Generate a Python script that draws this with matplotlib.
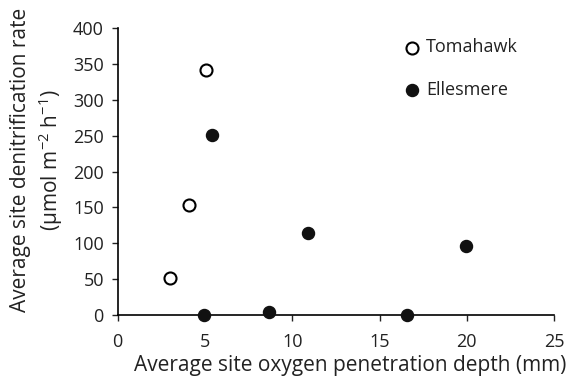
import matplotlib
matplotlib.use("Agg")
import matplotlib.pyplot as plt

# Средние по сайтам: глубина проникновения O2 (мм) и скорость денитрификации
tomahawk_depth = [3.0, 4.07, 5.04]
tomahawk_rate = [52, 153, 342]
ellesmere_depth = [4.96, 5.4, 8.67, 10.9, 16.59, 19.95]
ellesmere_rate = [0, 251, 4, 114, 0, 97]

x_ticks = [0, 5, 10, 15, 20, 25]
y_ticks = [0, 50, 100, 150, 200, 250, 300, 350, 400]

plt.rcParams["font.family"] = ["Open Sans", "DejaVu Sans"]
plt.rcParams["mathtext.default"] = "regular"

fig = plt.figure(figsize=(5.66, 3.83), dpi=100)
ax = fig.add_axes([0.208, 0.177, 0.771, 0.750])

ax.scatter(tomahawk_depth, tomahawk_rate, s=75, facecolors="white",
           edgecolors="black", linewidths=1.5, label="Tomahawk", zorder=3,
           clip_on=False)
ax.scatter(ellesmere_depth, ellesmere_rate, s=75, color="#111111",
           label="Ellesmere", zorder=3, clip_on=False)

ax.set_xlim(0, 25)
ax.set_ylim(0, 400)
ax.set_xticks(x_ticks)
ax.set_yticks(y_ticks)
ax.tick_params(labelsize=13, direction="out", length=4, width=1,
               colors="#222222", labelcolor="#222222")
ax.tick_params(axis="x", pad=8.5)
ax.tick_params(axis="y", pad=6)
for side in ["top", "right"]:
    ax.spines[side].set_visible(False)
for side in ["left", "bottom"]:
    ax.spines[side].set_linewidth(1.2)

ax.set_xlabel("Average site oxygen penetration depth (mm)", fontsize=15,
              labelpad=3.5, x=0.532, color="#222222")
ax.set_ylabel("Average site denitrification rate\n(µmol m$^{-2}$ h$^{-1}$)",
              fontsize=15, labelpad=6, y=0.54, color="#222222",
              linespacing=1.25)

leg = ax.legend(loc="upper right", bbox_to_anchor=(0.955, 1.02), frameon=False,
                fontsize=13, handlelength=1.0, handletextpad=0.3,
                labelspacing=1.35)
for t in leg.get_texts():
    t.set_color("#222222")

fig.savefig("out.png", dpi=100)
